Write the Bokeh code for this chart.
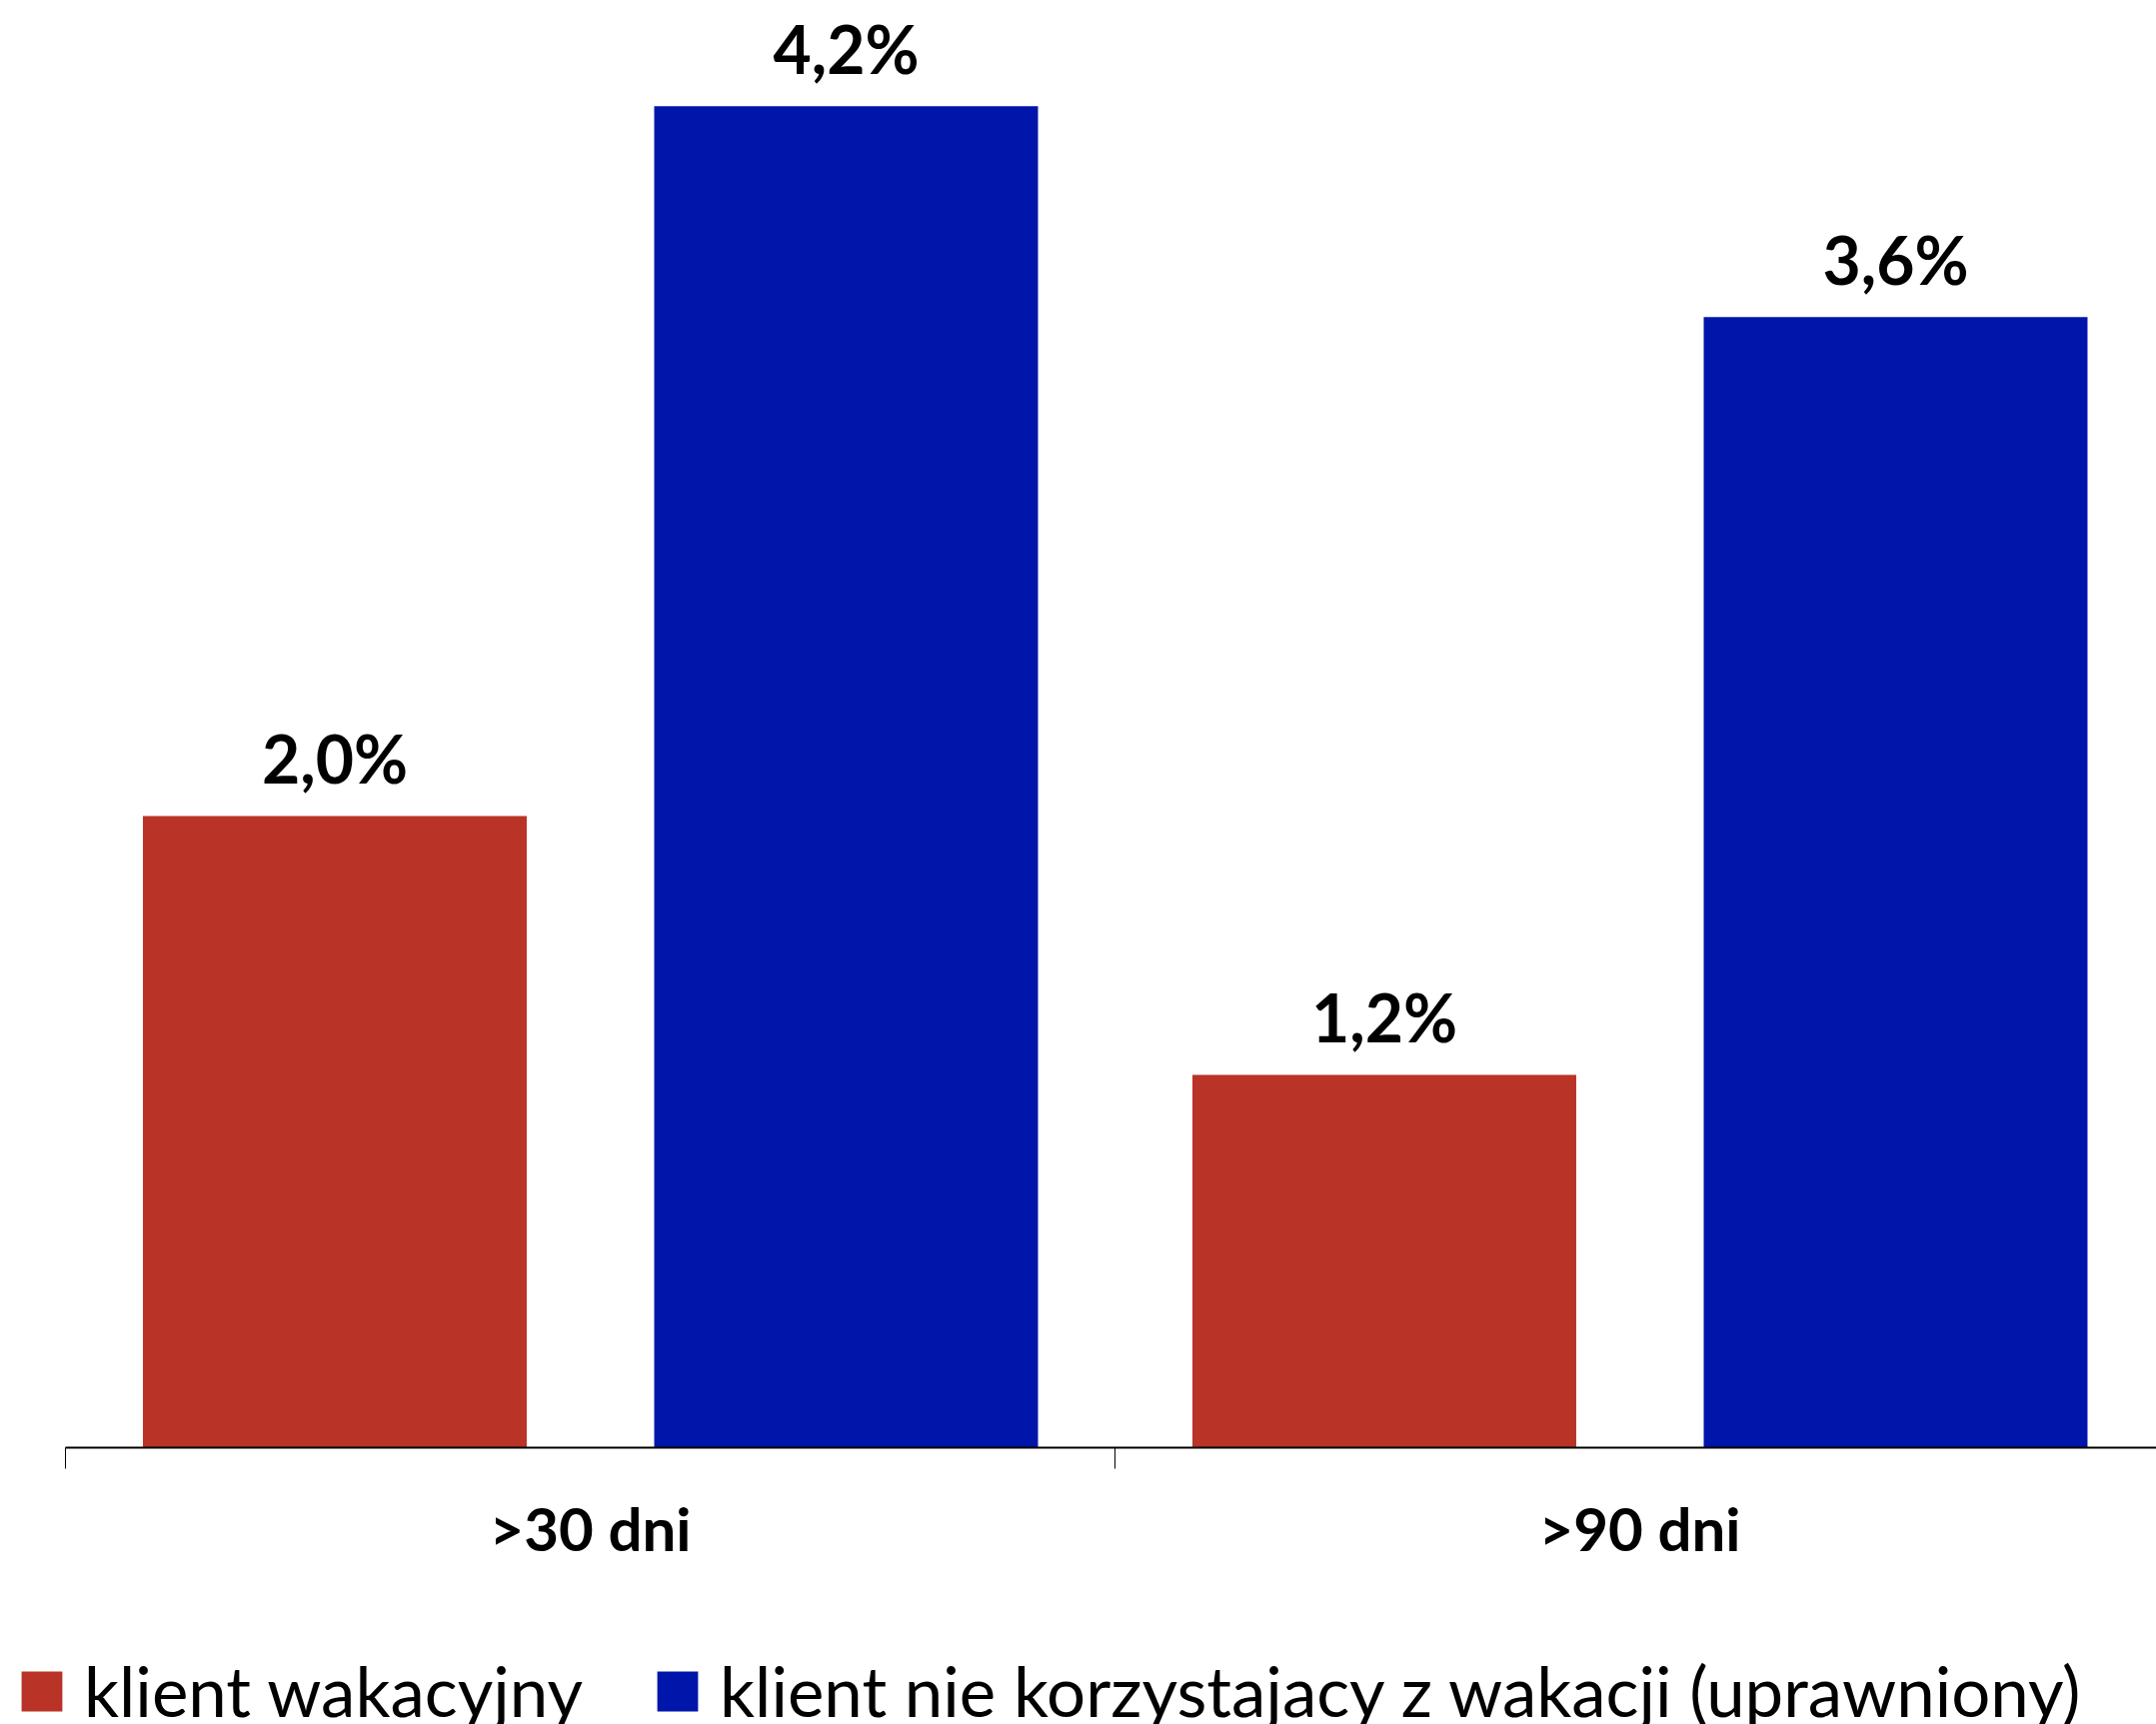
from bokeh.plotting import figure
from bokeh.layouts import column
from bokeh.models import Range1d, FixedTicker, Legend, LegendItem, ColumnDataSource
from bokeh.core.properties import value
from bokeh.embed import file_html
from bokeh.resources import INLINE

# ---- data ----
categories = [">30 dni", ">90 dni"]
series_names = ["klient wakacyjny", "klient nie korzystajacy z wakacji (uprawniony)"]
klient_wakacyjny = [2.00, 1.18]
klient_uprawniony = [4.248, 3.58]
series_values = [klient_wakacyjny, klient_uprawniony]
colors = ["#B93326", "#0016AA"]

# ---- layout constants ----
W = 2157
H_MAIN = 1635
H_LEG = 1725 - H_MAIN
LEFT = 65
UNIT = 525.0          # px per x unit (category spans 2 units)
PX_PER_PCT = 316.0
frame_h = 1448

p = figure(width=W, height=H_MAIN, output_backend="svg", toolbar_location=None,
           x_range=Range1d(-LEFT / UNIT, (W - LEFT) / UNIT),
           y_range=Range1d(0, frame_h / PX_PER_PCT), y_axis_type=None,
           min_border_left=0, min_border_right=0, min_border_top=0,
           min_border_bottom=H_MAIN - frame_h)
p.outline_line_color = None
p.grid.visible = False
p.background_fill_color = "white"
p.border_fill_color = "white"

# ---- legend strip below the chart ----
lf = figure(width=W, height=H_LEG, output_backend="svg", toolbar_location=None,
            x_range=Range1d(-20, -19), y_range=Range1d(-20, -19),
            x_axis_type=None, y_axis_type=None,
            min_border_left=0, min_border_right=0, min_border_top=0, min_border_bottom=0)
lf.outline_line_color = None
lf.grid.visible = False
lf.background_fill_color = "white"
lf.border_fill_color = "white"

offsets = [-0.4867, 0.4876]
bar_w = 0.7314
items = []
for name, vals, col, off in zip(series_names, series_values, colors, offsets):
    xs = [2 * i + 1 + off for i in range(len(categories))]
    labels = [f"{v:.1f}%".replace(".", ",") for v in vals]
    src = ColumnDataSource(dict(x=xs, top=vals, label=labels))
    p.vbar(x="x", top="top", width=bar_w, source=src,
           fill_color=col, line_color=None)
    p.text(x="x", y="top", text="label", source=src, text_align="center",
           text_baseline="alphabetic", y_offset=-58,
           text_font=value("Lato"), text_font_style="bold",
           text_font_size="66px", text_color="black")
    # legend swatch renderer (same data; lies outside the strip's ranges)
    r = lf.vbar(x="x", top="top", width=bar_w, source=src,
                fill_color=col, line_color=None)
    items.append(LegendItem(label=name, renderers=[r]))

ax = p.xaxis[0]
ax.bounds = (0, 2 * len(categories))
ax.ticker = FixedTicker(ticks=[2 * i + 1 for i in range(len(categories))],
                        minor_ticks=[2 * i for i in range(len(categories) + 1)])
ax.major_label_overrides = {2 * i + 1: c for i, c in enumerate(categories)}
ax.major_tick_line_color = None
ax.major_tick_out = 0
ax.major_tick_in = 0
ax.minor_tick_out = 21
ax.minor_tick_in = 0
ax.minor_tick_line_color = "black"
ax.minor_tick_line_width = 1
ax.axis_line_color = "black"
ax.axis_line_width = 2
ax.major_label_standoff = 23
ax.major_label_text_font = "Lato"
ax.major_label_text_font_style = "bold"
ax.major_label_text_font_size = "60px"
ax.major_label_text_color = "black"

legend = Legend(items=items, orientation="horizontal", location=(16, -8),
                label_text_font="Lato", label_text_font_size="69px",
                label_text_color="black",
                glyph_width=51, glyph_height=50, label_standoff=17, spacing=69,
                padding=0, margin=0, border_line_color=None,
                background_fill_alpha=0)
lf.add_layout(legend)

layout = column(p, lf, spacing=0)
open("out.html", "w").write(file_html(layout, INLINE))
